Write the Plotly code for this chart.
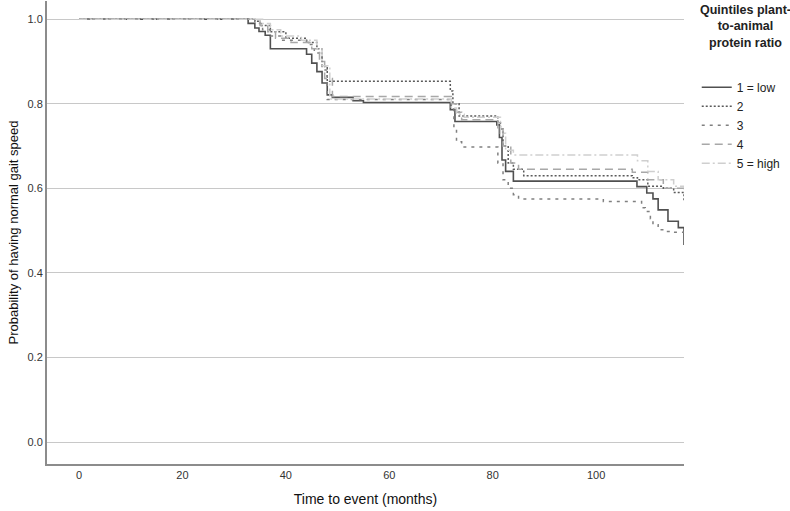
import plotly.graph_objects as go

# Kaplan-Meier style step data (months, survival probability)
g1_t = [0, 32.7, 34, 34.8, 36, 37, 44, 45, 46, 47, 48, 49, 53, 55, 71.8, 72.7, 80.8, 81.3, 81.8, 82.5, 84, 107.9, 109.8, 111, 112, 113.9, 115.9, 117]
g1_s = [1, 0.99, 0.979, 0.971, 0.962, 0.93, 0.917, 0.896, 0.876, 0.849, 0.821, 0.815, 0.807, 0.803, 0.786, 0.758, 0.75, 0.72, 0.667, 0.64, 0.617, 0.604, 0.589, 0.575, 0.549, 0.522, 0.507, 0.466]

g2_t = [0, 34, 35, 37, 40, 44, 46, 47, 48, 71.8, 72.3, 73.5, 81, 81.5, 82, 83, 84, 86, 107, 108, 110, 113, 115, 117]
g2_s = [1, 0.995, 0.985, 0.97, 0.955, 0.945, 0.93, 0.89, 0.853, 0.83, 0.80, 0.771, 0.755, 0.74, 0.70, 0.66, 0.645, 0.63, 0.625, 0.62, 0.605, 0.6, 0.59, 0.57]

g3_t = [0, 34, 35.5, 37, 39, 44, 45.5, 47, 48, 72, 72.5, 73, 74, 81, 82, 83, 84, 85, 101.4, 108.8, 109.5, 110.5, 111, 112, 113.5, 115, 117]
g3_s = [1, 0.99, 0.975, 0.96, 0.95, 0.94, 0.92, 0.88, 0.81, 0.79, 0.74, 0.71, 0.698, 0.66, 0.62, 0.60, 0.585, 0.575, 0.569, 0.554, 0.545, 0.528, 0.514, 0.502, 0.498, 0.496, 0.49]

g4_t = [0, 35, 36.5, 38, 41, 45, 46.5, 47.5, 49, 72, 73, 74, 81, 82, 83.5, 85, 107, 110, 113, 117]
g4_s = [1, 0.985, 0.97, 0.955, 0.945, 0.93, 0.9, 0.86, 0.817, 0.80, 0.78, 0.762, 0.74, 0.70, 0.66, 0.645, 0.638, 0.62, 0.6, 0.585]

g5_t = [0, 35.5, 37, 39, 43, 46, 47, 48.5, 72, 73, 74.5, 81.5, 82.5, 84, 108, 110, 112, 115, 117]
g5_s = [1, 0.99, 0.975, 0.96, 0.95, 0.93, 0.89, 0.811, 0.79, 0.775, 0.768, 0.73, 0.69, 0.679, 0.665, 0.64, 0.62, 0.605, 0.6]

names = ["1 = low", "2", "3", "4", "5 = high"]
times = [g1_t, g2_t, g3_t, g4_t, g5_t]
surv = [g1_s, g2_s, g3_s, g4_s, g5_s]
legend_title = "Quintiles plant-<br>to-animal<br>protein ratio"

styles = [
    dict(color="#505050", width=1.6, dash="solid"),
    dict(color="#5a5a5a", width=1.5, dash="2px,2px"),
    dict(color="#808080", width=1.5, dash="3px,5px"),
    dict(color="#a8a8a8", width=1.5, dash="8px,5px"),
    dict(color="#cfcfcf", width=1.5, dash="8px,3px,2px,3px"),
]

x_ticks = [0, 20, 40, 60, 80, 100]
y_ticks = [0.0, 0.2, 0.4, 0.6, 0.8, 1.0]

fig = go.Figure()
for n, t, s, st in zip(names, times, surv, styles):
    fig.add_trace(go.Scatter(x=t, y=s, mode="lines", name=n, line=dict(shape="hv", **st)))

font = "Liberation Sans, Arial, sans-serif"
fig.update_layout(
    width=790, height=511,
    margin=dict(l=47, r=106, t=1, b=47, autoexpand=False),
    paper_bgcolor="white", plot_bgcolor="white",
    font=dict(family=font, size=11, color="#222"),
    showlegend=True,
    legend=dict(
        x=1.02, y=0.845, xanchor="left", yanchor="top",
        font=dict(size=12, color="#222"),
        itemwidth=30, tracegroupgap=0,
    ),
    xaxis=dict(
        range=[-6.2, 117], tickvals=x_ticks, ticktext=[str(v) for v in x_ticks],
        showgrid=False, zeroline=False, showline=True, linecolor="#8c8c8c", linewidth=2,
        ticks="", tickfont=dict(size=11, color="#333"),
        title=dict(text="Time to event (months)", font=dict(size=14, color="#111"), standoff=14),
    ),
    yaxis=dict(
        range=[-0.052, 1.043], tickvals=y_ticks, ticktext=[f"{v:.1f}" for v in y_ticks],
        showgrid=True, gridcolor="#c8c8c8", gridwidth=1, zeroline=False,
        showline=True, linecolor="#8c8c8c", linewidth=2,
        ticks="", tickfont=dict(size=11, color="#333"),
        title=dict(text="Probability of having normal gait speed", font=dict(size=13, color="#111"), standoff=6),
    ),
    annotations=[dict(
        text="<b>" + legend_title + "</b>", xref="paper", yref="paper",
        x=(745 - 47) / 637, y=1.0, xanchor="center", yanchor="top", align="center", showarrow=False,
        font=dict(size=12.5, color="#222"),
    )],
)

fig.write_html("out.html")
